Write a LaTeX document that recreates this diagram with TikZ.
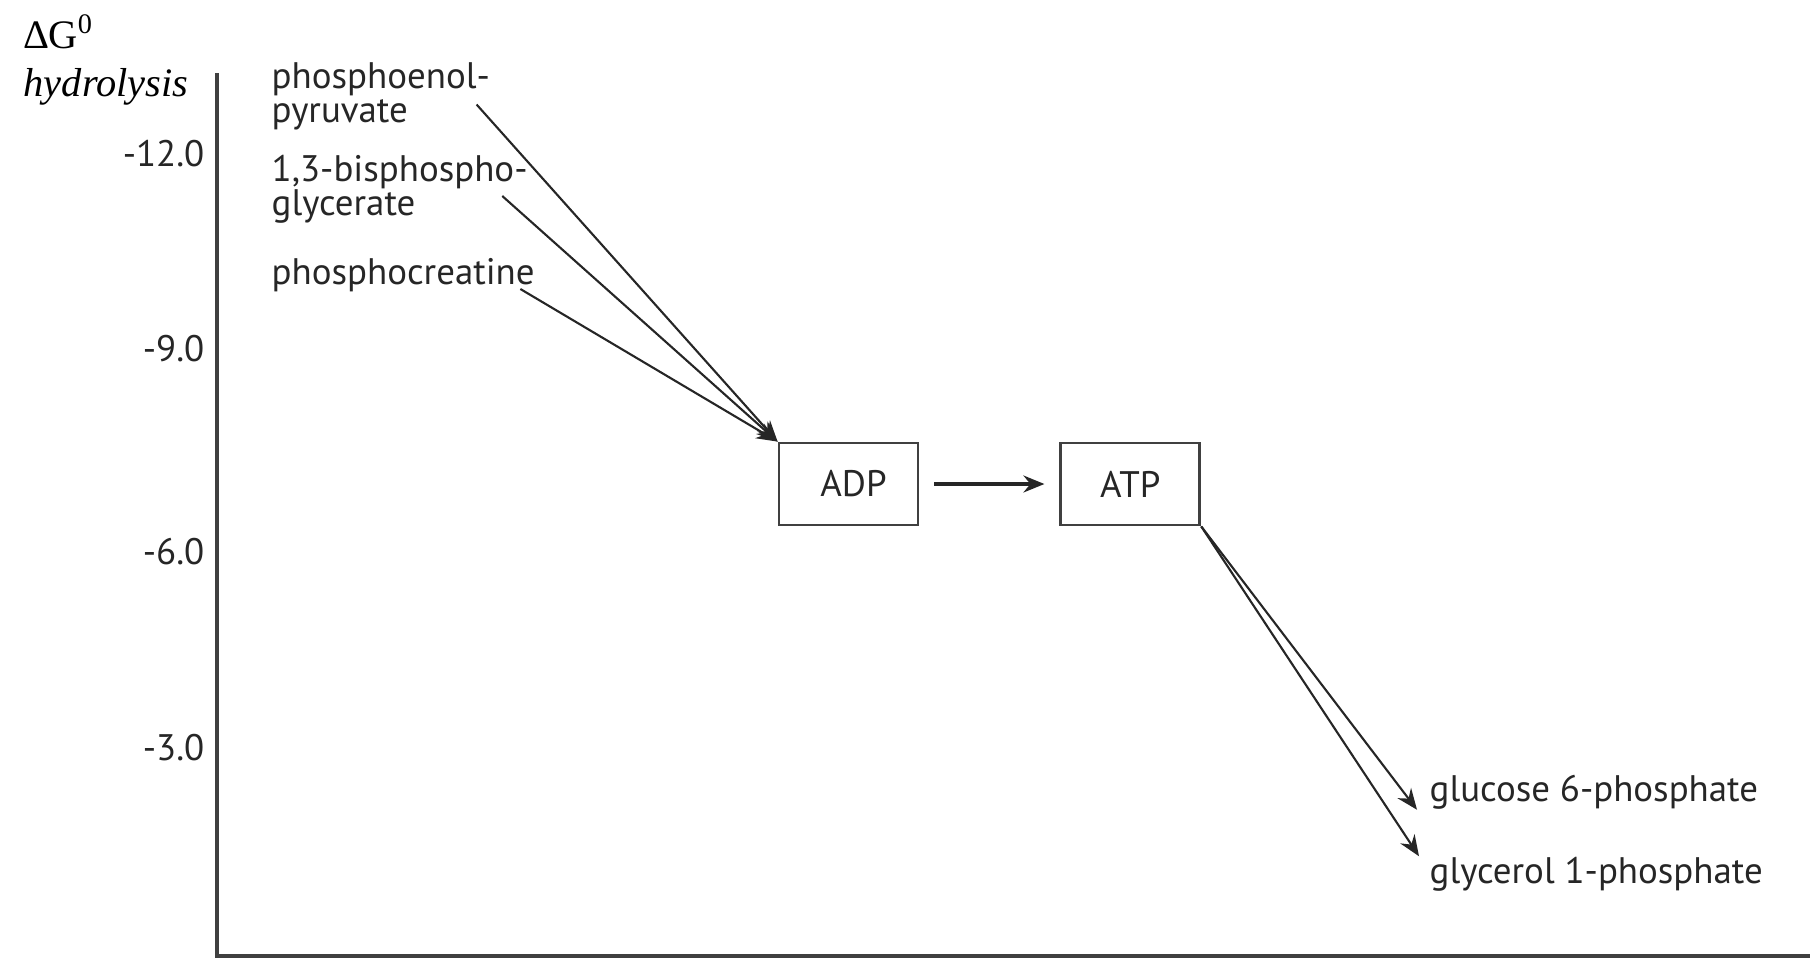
\documentclass[tikz,border=0pt]{standalone}
\usepackage{fontspec}
\setmainfont{PT Sans}
\newfontfamily\serifont{Liberation Serif}
\usetikzlibrary{arrows.meta,positioning}

\begin{document}
\begin{tikzpicture}[>={Stealth[length=2.1mm,width=1.7mm,inset=0.7mm]},
		lbl/.style={inner sep=0pt,anchor=west,align=left,text=black!85,font=\fontsize{10.5}{9.8}\selectfont},
		ticklbl/.style={inner sep=0pt,anchor=east,text=black!85,font=\fontsize{10.5}{12}\selectfont},
		nucl/.style={draw=black!75,line width=0.8pt,minimum width=1.39cm,minimum height=0.82cm,text=black!85,font=\fontsize{10.5}{12}\selectfont},
		flow/.style={->,line width=0.6pt,draw=black!85}]
		\useasboundingbox (0,0) rectangle (18.1,-9.58);

		\node[anchor=west,inner sep=0pt] (dg) at (0.23,-0.32) {\serifont\fontsize{11.5}{13}\selectfont Δ\kern-0.3pt G\textsuperscript{0}};
		\node[anchor=west,inner sep=0pt] (hyd) at (0.23,-0.87) {\serifont\itshape\fontsize{11.5}{13}\selectfont hydrolysis};

		\coordinate (top) at (2.17,-0.73);
		\coordinate (orig) at (2.17,-9.56);
		\coordinate (xend) at (18.1,-9.56);
		\draw[line width=0.9pt,black!75] (top) -- (orig) -- (xend);

		\foreach \v/\y [count=\i] in {-12.0/1.54,-9.0/3.49,-6.0/5.52,-3.0/7.48}
			\node[ticklbl] (tick\i) at (2.05,-\y) {\v};

		\node[lbl] (pep) at (2.71,-0.965) {phosphoenol-\\pyruvate};
		\node[lbl] (bpg) at (2.71,-1.89) {1,3-bisphospho-\\glycerate};
		\node[lbl] (pcr) at (2.71,-2.75) {phosphocreatine};

		\node[nucl] (adp) at (8.485,-4.84) {\hspace{1mm}ADP};
		\node[nucl,right=1.40cm of adp] (atp) {ATP\hspace{2mm}};

		\node[lbl] (glu) at (14.29,-7.92) {glucose 6-phosphate};
		\node[lbl] (gly) at (14.29,-8.74) {glycerol 1-phosphate};

		\draw[flow] ([xshift=-1.4mm,yshift=-0.8mm]pep.east) -- (adp.north west);
		\draw[flow] ([xshift=-2.6mm,yshift=-0.7mm]bpg.east) -- (adp.north west);
		\draw[flow] ([xshift=-1.5mm,yshift=-1.4mm]pcr.east) -- (adp.north west);
		\draw[flow,line width=0.9pt,shorten <=1.5mm,shorten >=1.5mm] (adp.east) -- (atp.west);
		\draw[flow] (atp.south east) -- ([xshift=-1.2mm]glu.south west);
		\draw[flow] (atp.south east) -- ([xshift=-1mm]gly.north west);
	\end{tikzpicture}
\end{document}
